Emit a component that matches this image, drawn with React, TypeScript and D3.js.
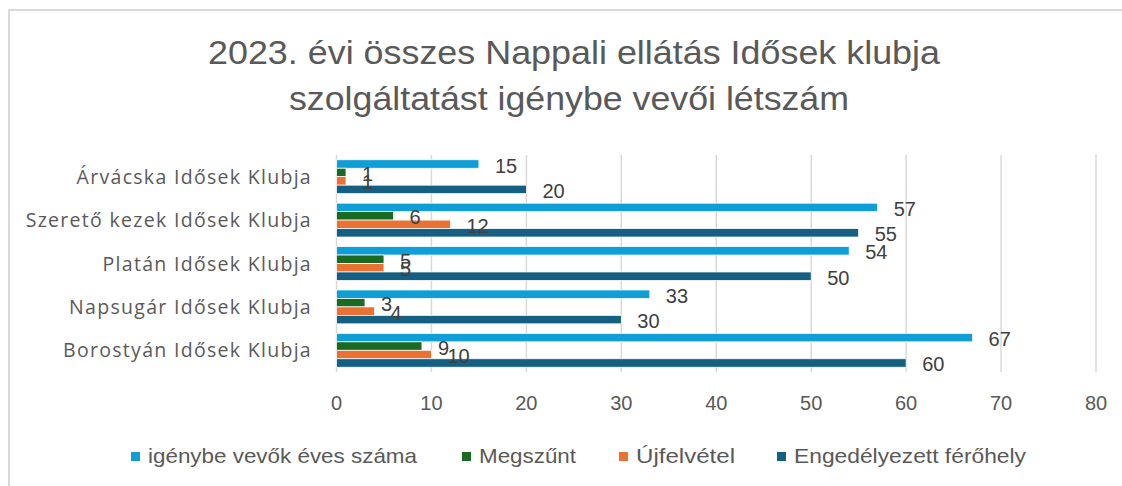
import React, { useEffect, useRef } from 'react';
import * as d3 from 'd3';

const categories = [
  'Árvácska Idősek Klubja',
  'Szerető kezek Idősek Klubja',
  'Platán Idősek Klubja',
  'Napsugár Idősek Klubja',
  'Borostyán Idősek Klubja',
];
const seriesNames = ['igénybe vevők éves száma', 'Megszűnt', 'Újfelvétel', 'Engedélyezett férőhely'];
const seriesColors = ['#0F9ED5', '#196B24', '#E97132', '#156082'];
const igenybeVevok = [15, 57, 54, 33, 67];
const megszunt = [1, 6, 5, 3, 9];
const ujfelvetel = [1, 12, 5, 4, 10];
const engedelyezett = [20, 55, 50, 30, 60];
const xTicks = [0, 10, 20, 30, 40, 50, 60, 70, 80];
const titleLines = ['2023. évi összes Nappali ellátás Idősek klubja', 'szolgáltatást igénybe vevői létszám'];

const W = 1122, H = 486;

export default function App() {
  const ref = useRef<SVGSVGElement | null>(null);

  useEffect(() => {
    const svg = d3.select(ref.current);
    svg.selectAll('*').remove();

    const values = [igenybeVevok, megszunt, ujfelvetel, engedelyezett];
    const rows = categories.map((c, i) => ({ cat: c, vals: values.map((s) => s[i]) }));

    const x = d3.scaleLinear().domain([0, 80]).range([336.5, 1096]);
    const y = d3.scaleBand<string>().domain(categories).range([155, 372]).paddingInner(0.22).paddingOuter(0.11);
    const ys = d3.scaleBand<number>().domain(d3.range(4)).range([0, y.bandwidth()]);

    // frame
    svg.append('rect')
      .attr('x', 9).attr('y', 10).attr('width', 1200).attr('height', 600)
      .attr('fill', 'white').attr('stroke', '#d9d9d9').attr('stroke-width', 2);

    // title (narrow font look -> fitted width)
    const titleX = [574, 569];
    const titleW = [732, 560];
    svg.selectAll('text.title')
      .data(titleLines)
      .enter()
      .append('text')
        .attr('class', 'title')
        .attr('x', (d, i) => titleX[i])
        .attr('y', (d, i) => 64 + i * 46)
        .attr('text-anchor', 'middle')
        .attr('textLength', (d, i) => titleW[i])
        .attr('lengthAdjust', 'spacingAndGlyphs')
        .style('font-family', '"Liberation Sans", Arial, sans-serif')
        .style('font-size', '33px')
        .style('fill', '#595959')
        .text((d) => d);

    // gridlines
    svg.append('g')
      .selectAll('line')
      .data(xTicks)
      .enter()
      .append('line')
        .attr('x1', (d) => x(d)).attr('x2', (d) => x(d))
        .attr('y1', 155).attr('y2', 372)
        .attr('stroke', '#d9d9d9').attr('stroke-width', 1.5);

    // tick labels
    svg.append('g')
      .selectAll('text')
      .data(xTicks)
      .enter()
      .append('text')
        .attr('x', (d) => x(d))
        .attr('y', 410)
        .attr('text-anchor', 'middle')
        .style('font-family', '"Liberation Sans", Arial, sans-serif')
        .style('font-size', '20px')
        .style('fill', '#595959')
        .text((d) => d);

    // category labels
    svg.append('g')
      .selectAll('text')
      .data(categories)
      .enter()
      .append('text')
        .attr('x', 312)
        .attr('y', (d) => (y(d) as number) + y.bandwidth() / 2 + 7)
        .attr('text-anchor', 'end')
        .style('font-family', '"Open Sans", sans-serif')
        .style('font-size', '19.5px')
        .style('letter-spacing', '1.3px')
        .style('fill', '#595959')
        .text((d) => d);

    // bars
    const groups = svg.append('g')
      .selectAll('g')
      .data(rows)
      .enter()
      .append('g')
        .attr('transform', (d) => `translate(0, ${y(d.cat)})`);

    groups.selectAll('rect')
      .data((d) => d.vals)
      .enter()
      .append('rect')
        .attr('x', x(0))
        .attr('y', (d, i) => ys(i) as number)
        .attr('width', (d) => x(d) - x(0))
        .attr('height', ys.bandwidth())
        .attr('fill', (d, i) => seriesColors[i])
        .attr('stroke', 'white')
        .attr('stroke-width', 0.75);

    groups.selectAll('text')
      .data((d) => d.vals)
      .enter()
      .append('text')
        .attr('x', (d) => x(d) + 16)
        .attr('y', (d, i) => (ys(i) as number) + ys.bandwidth() / 2 + 8.5)
        .style('font-family', '"Liberation Sans", Arial, sans-serif')
        .style('font-size', '20px')
        .style('fill', '#404040')
        .text((d) => d);

    // legend
    const legendX = [131, 462, 619, 777];
    const legendW = [269, 97, 99, 232];
    const legend = svg.append('g')
      .selectAll('g')
      .data(seriesNames)
      .enter()
      .append('g')
        .attr('transform', (d, i) => `translate(${legendX[i]}, 452)`);

    legend.append('rect')
      .attr('width', 9).attr('height', 9)
      .attr('fill', (d, i) => seriesColors[i]);

    legend.append('text')
      .attr('x', 17)
      .attr('y', 11)
      .attr('textLength', (d, i) => legendW[i])
      .attr('lengthAdjust', 'spacingAndGlyphs')
      .style('font-family', '"Liberation Sans", Arial, sans-serif')
      .style('font-size', '21px')
      .style('fill', '#595959')
      .text((d) => d);
  }, []);

  return (
    <svg ref={ref} width={W} height={H} style={{ position: 'absolute', left: 0, top: 0 }}></svg>
  );
}
